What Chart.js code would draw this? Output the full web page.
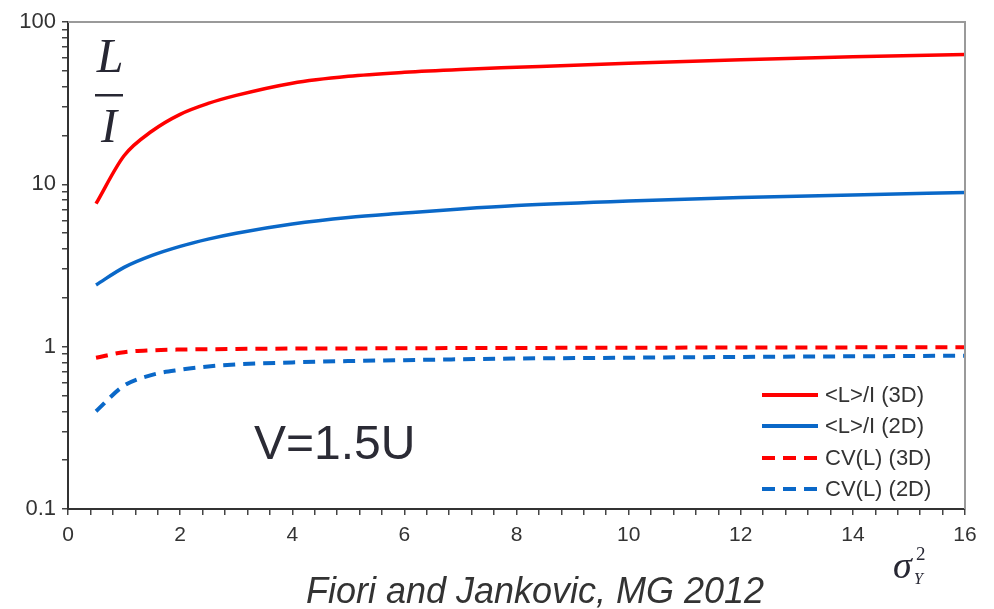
<!DOCTYPE html>
<html>
<head>
<meta charset="utf-8">
<script src="https://cdn.jsdelivr.net/npm/chart.js@4.4.1/dist/chart.umd.min.js"></script>
<style>
  html, body { margin: 0; padding: 0; background: #ffffff; }
  #wrap { width: 994px; height: 609px; position: relative; }
</style>
</head>
<body>
<div id="wrap"><canvas id="chart" width="994" height="609"></canvas></div>
<script>
// Variance of log-conductivity (x) and the normalised results
const sigmaY2 = [0.5, 1, 1.5, 2, 2.5, 3, 4, 5, 6, 7, 8, 10, 12, 14, 16];

// Mean travel length over integral scale, <L>/I
const meanL3D = [7.6, 15.0, 21.3, 27.0, 31.5, 35.3, 42.0, 46.3, 49.0, 51.0, 52.6, 55.8, 58.6, 61.0, 63.0];
const meanL2D = [2.4, 3.08, 3.65, 4.15, 4.6, 5.0, 5.7, 6.25, 6.65, 7.05, 7.4, 7.9, 8.3, 8.6, 8.9];

// Coefficient of variation of L
const cvL3D = [0.855, 0.925, 0.95, 0.96, 0.964, 0.968, 0.973, 0.975, 0.978, 0.98, 0.982, 0.985, 0.988, 0.99, 0.992];
const cvL2D = [0.40, 0.575, 0.67, 0.72, 0.755, 0.778, 0.80, 0.815, 0.826, 0.836, 0.845, 0.855, 0.865, 0.872, 0.88];

const seriesLabels = ['<L>/I (3D)', '<L>/I (2D)', 'CV(L) (3D)', 'CV(L) (2D)'];

const yMajorTicks = [0.1, 1, 10, 100];
const xMajorTicks = [0, 2, 4, 6, 8, 10, 12, 14, 16];

const RED = '#ff0000';
const BLUE = '#0a68c8';
const DASH = [12, 8];
const SANS = '"Liberation Sans", Arial, sans-serif';
const SERIF = '"Liberation Serif", "DejaVu Serif", serif';

function pts(ys) { return sigmaY2.map((x, i) => ({ x: x, y: ys[i] })); }

function ds(label, ys, color, dashed) {
  return {
    label: label,
    data: pts(ys),
    borderColor: color,
    backgroundColor: color,
    borderWidth: dashed ? 4 : 3.5,
    borderDash: dashed ? DASH : [],
    pointRadius: 0,
    cubicInterpolationMode: 'monotone',
    fill: false
  };
}

// Plot frame (grey top/right edges), custom legend and annotation texts
const decorations = {
  id: 'decorations',
  afterDraw(chart) {
    const ctx = chart.ctx;
    const a = chart.chartArea;
    ctx.save();

    // grey top and right edges of the frame
    ctx.strokeStyle = '#9a9a9a';
    ctx.lineWidth = 2;
    ctx.beginPath();
    ctx.moveTo(a.left, a.top);
    ctx.lineTo(a.right, a.top);
    ctx.lineTo(a.right, a.bottom);
    ctx.stroke();

    // legend, lower right inside the plot
    const rows = [395, 426, 458, 489];
    chart.data.datasets.forEach((d, i) => {
      const y = rows[i];
      ctx.strokeStyle = d.borderColor;
      ctx.lineWidth = 4;
      ctx.setLineDash(d.borderDash.length ? [13, 8] : []);
      ctx.beginPath();
      ctx.moveTo(762, y);
      ctx.lineTo(818, y);
      ctx.stroke();
      ctx.setLineDash([]);
      ctx.fillStyle = '#333333';
      ctx.font = '22px ' + SANS;
      ctx.textAlign = 'left';
      ctx.textBaseline = 'middle';
      ctx.fillText(d.label, 825, y + 1);
    });

    // L / I fraction in the upper left
    ctx.fillStyle = '#272733';
    ctx.font = 'italic 48px ' + SERIF;
    ctx.textAlign = 'center';
    ctx.textBaseline = 'alphabetic';
    ctx.fillText('L', 110, 72);
    ctx.fillText('I', 109, 142);
    ctx.fillRect(95, 94, 28, 2.5);

    // velocity note
    ctx.font = '48px ' + SANS;
    ctx.textAlign = 'left';
    ctx.fillStyle = '#2b2b35';
    ctx.fillText('V=1.5U', 254, 459);

    // x-axis title: sigma_Y^2
    ctx.fillStyle = '#272733';
    ctx.font = 'italic 38px ' + SERIF;
    ctx.fillText('\u03c3', 893, 578);
    ctx.font = 'italic 16px ' + SERIF;
    ctx.fillText('Y', 914, 584);
    ctx.font = '19px ' + SERIF;
    ctx.fillText('2', 916, 560);

    // source caption
    ctx.fillStyle = '#333333';
    ctx.font = 'italic 36px ' + SANS;
    ctx.textAlign = 'center';
    ctx.fillText('Fiori and Jankovic, MG 2012', 535, 603);

    ctx.restore();
  }
};

new Chart(document.getElementById('chart'), {
  type: 'line',
  data: {
    datasets: [
      ds(seriesLabels[0], meanL3D, RED, false),
      ds(seriesLabels[1], meanL2D, BLUE, false),
      ds(seriesLabels[2], cvL3D, RED, true),
      ds(seriesLabels[3], cvL2D, BLUE, true)
    ]
  },
  options: {
    responsive: false,
    animation: false,
    layout: { padding: { left: 0, top: 22, right: 29, bottom: 0 } },
    plugins: { legend: { display: false }, tooltip: { enabled: false } },
    scales: {
      x: {
        type: 'linear',
        min: 0,
        max: 16,
        afterFit(scale) { scale.height = 100; },
        afterBuildTicks(scale) {
          const t = [];
          for (let i = 0; i <= 40; i++) t.push({ value: Math.round(i * 4) / 10 });
          scale.ticks = t;
        },
        ticks: {
          autoSkip: false,
          maxRotation: 0,
          padding: 8,
          color: '#333333',
          font: { family: SANS, size: 21 },
          callback(v) { return xMajorTicks.includes(v) ? String(v) : ''; }
        },
        grid: {
          drawOnChartArea: false,
          drawTicks: true,
          tickLength: 6,
          color: '#444444',
          lineWidth: 1.5
        },
        border: { display: true, color: '#333333', width: 2 }
      },
      y: {
        type: 'logarithmic',
        min: 0.1,
        max: 100,
        afterFit(scale) { scale.width = 68; },
        afterBuildTicks(scale) {
          const t = [];
          for (let e = -1; e <= 1; e++) {
            for (let m = 1; m <= 9; m++) t.push({ value: +(m * Math.pow(10, e)).toPrecision(3) });
          }
          t.push({ value: 100 });
          scale.ticks = t;
        },
        ticks: {
          autoSkip: false,
          padding: 6,
          color: '#333333',
          font: { family: SANS, size: 22 },
          callback(v) { return yMajorTicks.includes(v) ? String(v) : ''; }
        },
        grid: {
          drawOnChartArea: false,
          drawTicks: true,
          tickLength: 6,
          color: '#444444',
          lineWidth: 1.5
        },
        border: { display: true, color: '#333333', width: 2 }
      }
    }
  },
  plugins: [decorations]
});
</script>
</body>
</html>
